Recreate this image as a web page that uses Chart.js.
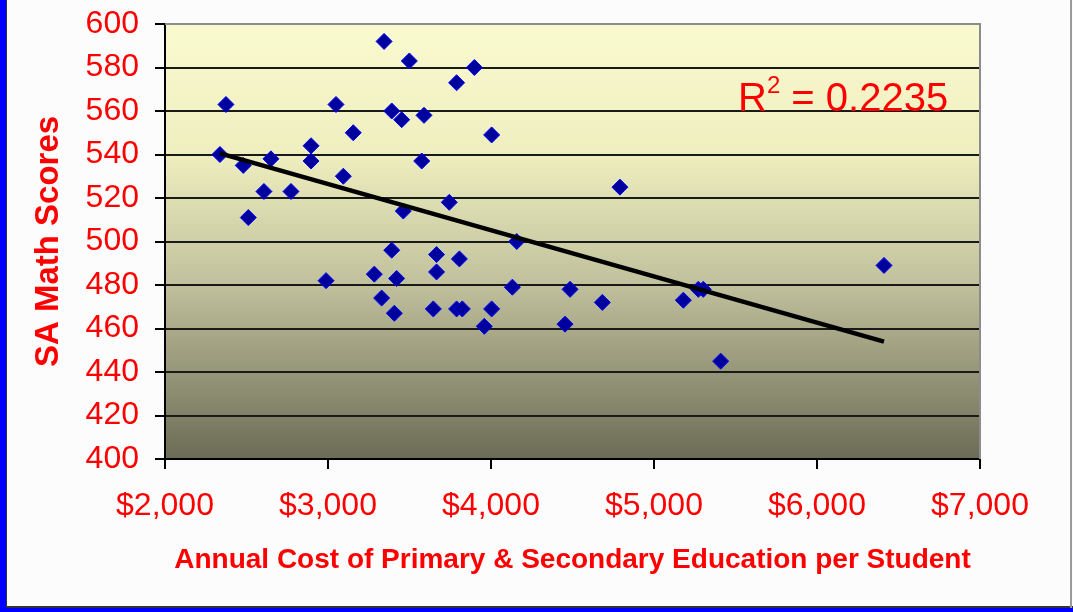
<!DOCTYPE html>
<html>
<head>
<meta charset="utf-8">
<script src="https://cdn.jsdelivr.net/npm/chart.js@4/dist/chart.umd.min.js"></script>
<style>
  html, body { margin: 0; padding: 0; background: #fcfcfc; }
  canvas { display: block; }
</style>
</head>
<body>
<canvas id="chart" width="1073" height="612"></canvas>
<script>
// annual cost per student ($) and SA math score
const costPerStudent = [
  2337, 2374, 2480, 2511, 2607, 2650, 2773, 2896, 2896, 2988,
  3049, 3094, 3155, 3284, 3329, 3344, 3391, 3391, 3407, 3421,
  3452, 3462, 3499, 3575, 3589, 3646, 3666, 3666, 3744, 3789,
  3806, 3789, 3824, 3898, 3959, 4004, 4004, 4131, 4158, 4454,
  4485, 4683, 4791, 5180, 5272, 5302, 5409, 6411
]
const mathScores = [
  540, 563, 535, 511, 523, 538, 523, 544, 537, 482,
  563, 530, 550, 485, 474, 592, 560, 496, 467, 483,
  556, 514, 583, 537, 558, 469, 494, 486, 518, 573,
  492, 469, 469, 580, 461, 549, 469, 479, 500, 462,
  478, 472, 525, 473, 478, 478, 445, 489
]

// linear trend line end points
const trendX = [2337, 6411]
const trendY = [540.5, 454]
const rSquared = "0.2235"

const xTicks = [2000, 3000, 4000, 5000, 6000, 7000]
const yTicks = [400, 420, 440, 460, 480, 500, 520, 540, 560, 580, 600]

const RED = "#ff0000"
const FONT = "'Liberation Sans', Arial, sans-serif"

const framePlugin = {
  id: "frame",
  beforeDraw(chart) {
    const { ctx, width, height, chartArea: a } = chart
    ctx.save()
    ctx.fillStyle = "#fcfcfc"
    ctx.fillRect(0, 0, width, height)
    // plot area gradient
    const g = ctx.createLinearGradient(0, a.top, 0, a.bottom)
    g.addColorStop(0, "#fafad0")
    g.addColorStop(0.3, "#eeeebf")
    g.addColorStop(0.6, "#c0c09c")
    g.addColorStop(1, "#6c6c56")
    ctx.fillStyle = g
    ctx.fillRect(a.left, a.top, a.right - a.left, a.bottom - a.top)
    ctx.restore()
  },
  afterDraw(chart) {
    const { ctx, width, height, chartArea: a } = chart
    ctx.save()
    // gray top/right border of the plot area
    ctx.strokeStyle = "#8c8c8c"
    ctx.lineWidth = 2
    ctx.beginPath()
    ctx.moveTo(a.left, a.top)
    ctx.lineTo(a.right, a.top)
    ctx.lineTo(a.right, a.bottom)
    ctx.stroke()
    // window frame
    ctx.fillStyle = "#0000ff"
    ctx.fillRect(0, 0, 6, height)
    ctx.fillRect(0, height - 4, width, 4)
    ctx.fillStyle = "#333"
    ctx.fillRect(6, 0, 1, height - 4)
    ctx.fillRect(6, height - 6, width - 6, 2)
    ctx.fillStyle = "#9a9a9a"
    ctx.fillRect(width - 3, 0, 2, height - 4)
    ctx.restore()
  },
  afterDatasetsDraw(chart) {
    const { ctx } = chart
    ctx.save()
    ctx.fillStyle = RED
    ctx.textBaseline = "alphabetic"
    let x = 738
    const y = 111
    ctx.font = "40px " + FONT
    ctx.fillText("R", x, y)
    x += ctx.measureText("R").width
    ctx.font = "24px " + FONT
    ctx.fillText("2", x, y - 18)
    x += ctx.measureText("2").width
    ctx.font = "40px " + FONT
    ctx.fillText(" = " + rSquared, x, y)
    ctx.restore()
  }
}

new Chart(document.getElementById("chart"), {
  type: "scatter",
  data: {
    datasets: [
      {
        type: "line",
        data: trendX.map((x, i) => ({ x, y: trendY[i] })),
        borderColor: "#000000",
        borderWidth: 4.5,
        pointRadius: 0,
        fill: false,
        order: 0,
      },
      {
        data: costPerStudent.map((x, i) => ({ x, y: mathScores[i] })),
        pointStyle: "rectRot",
        pointRadius: 8,
        backgroundColor: "#00009c",
        borderColor: "#0000ff",
        borderWidth: 1,
        order: 1,
      },
    ],
  },
  options: {
    responsive: false,
    animation: false,
    layout: { padding: { top: 24, right: 93, left: 0, bottom: 0 } },
    plugins: {
      legend: { display: false },
      tooltip: { enabled: false },
    },
    scales: {
      x: {
        type: "linear",
        min: xTicks[0],
        max: xTicks[xTicks.length - 1],
        afterBuildTicks: s => { s.ticks = xTicks.map(v => ({ value: v })) },
        afterFit: s => { s.height = 153; s.paddingLeft = 0; s.paddingRight = 0 },
        border: { color: "#000", width: 2 },
        grid: { drawOnChartArea: false, tickLength: 10, tickColor: "#000", lineWidth: 2 },
        ticks: {
          color: RED,
          padding: 18,
          maxRotation: 0,
          font: { family: FONT, size: 32 },
          callback: v => "$" + v.toLocaleString("en-US"),
        },
        title: {
          display: true,
          text: "Annual Cost of Primary & Secondary Education per Student",
          color: RED,
          font: { family: FONT, size: 28, weight: "bold" },
          padding: { top: 0, bottom: 35 },
        },
      },
      y: {
        min: yTicks[0],
        max: yTicks[yTicks.length - 1],
        afterBuildTicks: s => { s.ticks = yTicks.map(v => ({ value: v })) },
        afterFit: s => { s.width = 165; s.paddingTop = 0; s.paddingBottom = 0 },
        border: { color: "#000", width: 2 },
        grid: { color: "#1a1a1a", lineWidth: 2, tickLength: 10, tickColor: "#000" },
        ticks: {
          color: RED,
          padding: 16,
          font: { family: FONT, size: 32 },
        },
        title: {
          display: true,
          text: "SA Math Scores",
          color: RED,
          font: { family: FONT, size: 33, weight: "bold" },
          padding: { top: 29, bottom: 0 },
        },
      },
    },
  },
  plugins: [framePlugin],
})
</script>
</body>
</html>
